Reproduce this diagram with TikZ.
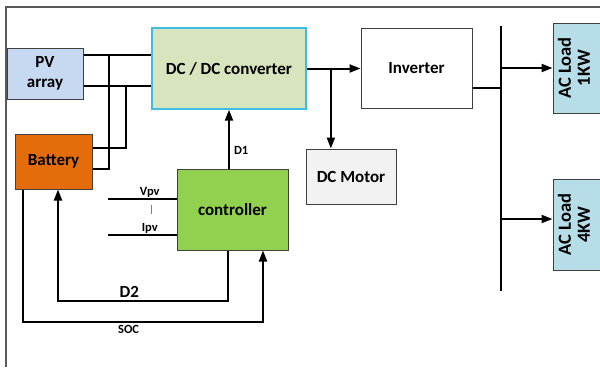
\documentclass[tikz,border=0pt]{standalone}
\usepackage{fontspec}
\setmainfont{Carlito}
\usetikzlibrary{positioning,arrows.meta,calc}
\definecolor{pvblue}{HTML}{C6D9F1}
\definecolor{convgreen}{HTML}{D7E4BD}
\definecolor{convedge}{HTML}{3CBDE6}
\definecolor{batorange}{HTML}{E46C0A}
\definecolor{ctrlgreen}{HTML}{92D050}
\definecolor{motorgray}{HTML}{F2F2F2}
\definecolor{loadblue}{HTML}{B7DEE8}

\begin{document}
\begin{tikzpicture}[
    x=1pt, y=-1pt,
    box/.style={draw=black!75, line width=1pt, align=center, inner sep=0pt, text=black,
      font=\fontsize{17}{20}\selectfont\bfseries},
    loadbox/.style={box, fill=loadblue, minimum width=47pt, font=\fontsize{18.5}{19}\selectfont\bfseries},
    wire/.style={line width=2pt},
    arr/.style={wire, -{Triangle[length=11pt, width=8pt]}},
    lbl/.style={font=\fontsize{12.5}{14}\selectfont\bfseries, inner sep=1pt}
  ]
    \useasboundingbox (0,0) rectangle (600,367);
    % frame
    \draw[black!65, line width=1.3pt] (6,367) -- (6,7) -- (600,7);

    \node[box, fill=pvblue, minimum width=76pt, minimum height=51pt] (pv) at (45,73.5) {PV\\array};
    \node[box, fill=convgreen, draw=convedge, line width=1.3pt, minimum width=154pt, minimum height=81pt] (conv) at (229,68.5) {DC / DC converter};
    \node[box, fill=white, minimum width=111pt, minimum height=80pt] (inv) at (416.5,68) {Inverter};
    \node[box, fill=batorange, minimum width=77pt, minimum height=55pt] (bat) at (53.5,161.5) {Battery};
    \node[box, fill=ctrlgreen, minimum width=111pt, minimum height=81pt] (ctrl) at (232.5,209.5) {controller};
    \node[box, fill=motorgray, minimum width=90pt, minimum height=55pt] (motor) at (351,176.5) {DC Motor};
    \node[loadbox, minimum height=90pt] (load1) at (576.5,68) {\rotatebox{90}{\begin{tabular}{@{}c@{}}AC Load\\1KW\end{tabular}}};
    \node[loadbox, minimum height=91pt] (load2) at (576.5,224.5) {\rotatebox{90}{\begin{tabular}{@{}c@{}}AC Load\\4KW\end{tabular}}};

    \coordinate (j1) at (109,55);
    \coordinate (j2) at (126,86);
    \coordinate (vin) at (108,199);
    \coordinate (iin) at (108,235);
    \coordinate (bustop) at (501,26);
    \coordinate (busbot) at (501,291);

    % PV / battery to converter
    \draw[wire] ([yshift=18.5pt]pv.east) -- ([yshift=18.5pt]pv.east -| conv.west);
    \draw[wire] ([yshift=-12.5pt]pv.east) -- ([yshift=-12.5pt]pv.east -| conv.west);
    \draw[wire] ([yshift=-7.5pt]bat.east) -| (j1);
    \draw[wire] ([yshift=13.5pt]bat.east) -| (j2);

    % controller signals
    \draw[arr] (conv.south |- ctrl.north) -- node[lbl, pos=0.3, right=3pt] {D1} (conv.south);
    \draw[wire] (vin) -- node[lbl, pos=0.61, above] {Vpv} (vin -| ctrl.west);
    \draw[wire] (iin) -- node[lbl, pos=0.61, above] {Ipv} (iin -| ctrl.west);
    \draw[black!50, line width=0.8pt] (151,205) -- (151,214);
    \draw[arr] ([xshift=-4.5pt]ctrl.south) -- ++(0,50)
      -| node[pos=0.29, above, font=\fontsize{17}{20}\selectfont\bfseries, inner sep=2pt] {D2} ([xshift=4.5pt]bat.south);
    \draw[arr] ([xshift=-30.5pt]bat.south) -- ++(0,132)
      -| node[lbl, pos=0.22, below=2pt] {SOC} ([xshift=30.5pt]ctrl.south);

    % power path
    \draw[arr] (conv.east) -- (conv.east -| inv.west);
    \coordinate (jm) at ($(conv.east)!0.45!(conv.east -| inv.west)$);
    \draw[arr] (jm) -- (jm |- motor.north);
    \draw[wire] (bustop) -- (busbot);
    \draw[wire] ([yshift=-20pt]inv.east) -- ([yshift=-20pt]inv.east -| bustop);
    \draw[arr] (load1.west -| bustop) -- (load1.west);
    \draw[arr] ([yshift=5.5pt]load2.west -| bustop) -- ([yshift=5.5pt]load2.west);
  \end{tikzpicture}
\end{document}
